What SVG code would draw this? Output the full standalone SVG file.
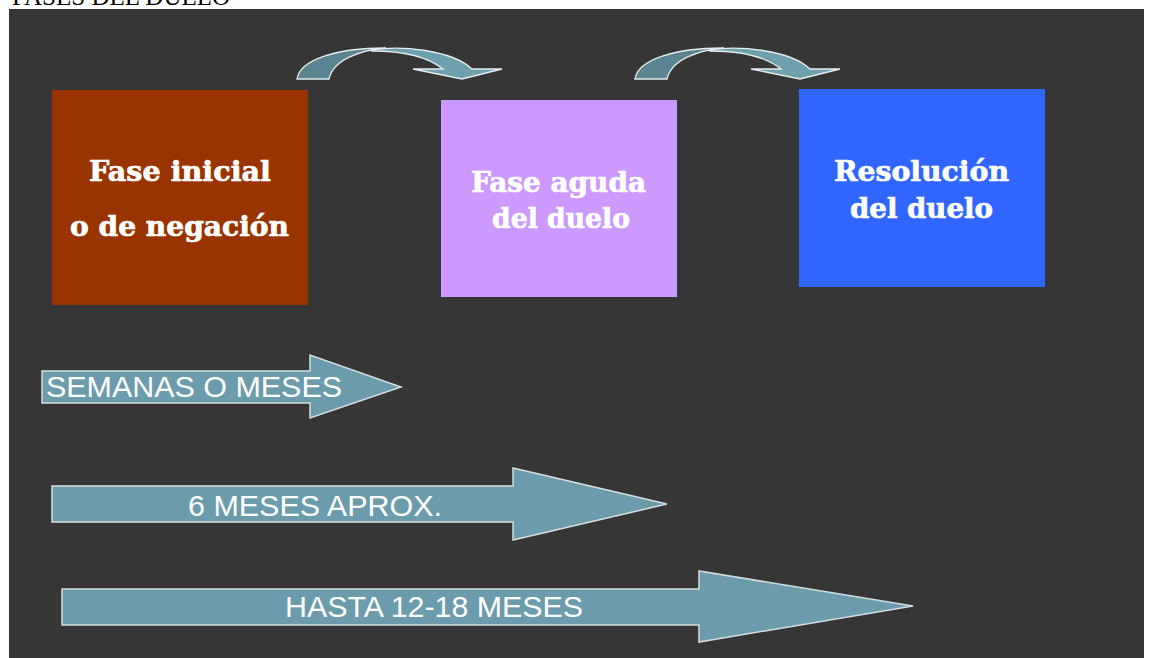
<svg xmlns="http://www.w3.org/2000/svg" width="1150" height="658" viewBox="0 0 1150 658">
  <style>
    .box-text { font-family: "DejaVu Serif", "Liberation Serif", serif; font-weight: bold; font-size: 28px; fill: #ffffff; stroke: #ffffff; stroke-width: 0.7; }
    .bar { fill: #6c9cac; stroke: #d4dde0; stroke-width: 1.5; }
    .bar-text { font-family: "Liberation Sans", Arial, sans-serif; font-size: 30px; fill: #ffffff; }
    .curve-back { fill: #5a8590; stroke: #e4ecee; stroke-width: 1.3; }
    .curve-front { fill: #6fa0ae; stroke: #e4ecee; stroke-width: 1.3; }
    .title { font-family: "Liberation Serif", serif; font-size: 25px; fill: #000000; }
  </style>
  <defs>
    <g id="curved-arrow">
      <path class="curve-back" d="M297,79 C300,60 335,48 386,48 C360,50 333,60 329,79 Z"/>
      <path class="curve-front" d="M372,50 C400,45 452,50 472,69 L502,69 L462,79 L413,69 L443,69 C428,57 405,51 372,51 Z"/>
    </g>
  </defs>
  <rect x="0" y="0" width="1150" height="658" fill="#ffffff"/>
  <text class="title" x="12" y="5">FASES DEL DUELO</text>
  <rect x="9" y="9" width="1135" height="649" fill="#363636"/>

  <g id="connectors">
    <use href="#curved-arrow"/>
    <use href="#curved-arrow" transform="translate(338,0)"/>
  </g>

  <g id="node-fase-inicial">
    <rect x="52" y="90" width="256" height="215" fill="#993300"/>
    <text class="box-text" x="89" y="181" textLength="182" lengthAdjust="spacingAndGlyphs">Fase inicial</text>
    <text class="box-text" x="70" y="236" textLength="219" lengthAdjust="spacingAndGlyphs">o de negación</text>
  </g>

  <g id="node-fase-aguda">
    <rect x="441" y="100" width="236" height="197" fill="#cc99ff"/>
    <text class="box-text" x="471" y="192" textLength="175" lengthAdjust="spacingAndGlyphs">Fase aguda</text>
    <text class="box-text" x="492" y="228" textLength="138" lengthAdjust="spacingAndGlyphs">del duelo</text>
  </g>

  <g id="node-resolucion">
    <rect x="799" y="89" width="246" height="198" fill="#3066ff"/>
    <text class="box-text" x="834" y="181" textLength="175" lengthAdjust="spacingAndGlyphs">Resolución</text>
    <text class="box-text" x="850" y="218" textLength="143" lengthAdjust="spacingAndGlyphs">del duelo</text>
  </g>

  <g id="node-semanas">
    <polygon class="bar" points="42,371 310,371 310,355 401,387 310,418 310,403 42,403"/>
    <text class="bar-text" x="46" y="397" textLength="296" lengthAdjust="spacingAndGlyphs">SEMANAS O MESES</text>
  </g>

  <g id="node-6meses">
    <polygon class="bar" points="52,486 513,486 513,468 667,504 513,540 513,522 52,522"/>
    <text class="bar-text" x="188" y="516" textLength="254" lengthAdjust="spacingAndGlyphs">6 MESES APROX.</text>
  </g>

  <g id="node-hasta">
    <polygon class="bar" points="62,589 699,589 699,571 913,606 699,642 699,625 62,625"/>
    <text class="bar-text" x="285" y="617" textLength="298" lengthAdjust="spacingAndGlyphs">HASTA 12-18 MESES</text>
  </g>
</svg>
